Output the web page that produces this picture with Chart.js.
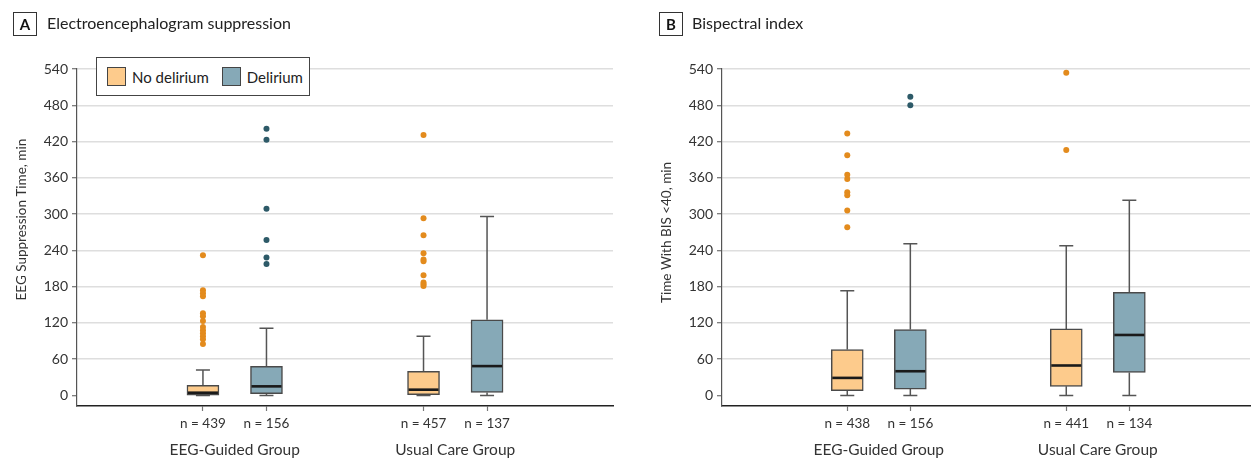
<!DOCTYPE html>
<html>
<head>
<meta charset="utf-8">
<script src="https://cdn.jsdelivr.net/npm/chart.js@4.4.1/dist/chart.umd.min.js"></script>
<style>
html,body{margin:0;padding:0;background:#fff;}
body{width:1254px;height:460px;position:relative;overflow:hidden;font-family:Lato,"Open Sans",sans-serif;color:#222;}
canvas{position:absolute;top:0;}
.tag{position:absolute;top:12px;width:22px;height:22px;border:1px solid #333;font-weight:bold;font-size:15px;line-height:22px;text-align:center;color:#111;}
.ptitle{position:absolute;top:11px;height:24px;line-height:24px;font-size:16px;color:#222;}
.legend{position:absolute;left:96px;top:57px;width:212px;height:37px;border:1px solid #444;background:#fff;display:flex;align-items:center;font-size:15px;color:#222;}
.legend .item{display:flex;align-items:center;}
.legend .sw{width:17px;height:17px;border:1px solid #444;margin-right:6px;}
</style>
</head>
<body>
<canvas id="cA" width="627" height="460" style="left:0px"></canvas>
<canvas id="cB" width="627" height="460" style="left:627px"></canvas>
<div class="tag" style="left:13px">A</div>
<div class="ptitle" style="left:47px">Electroencephalogram suppression</div>
<div class="tag" style="left:659px">B</div>
<div class="ptitle" style="left:692px">Bispectral index</div>
<div class="legend" id="legend"></div>
<script>
// ---------- data ----------
const groups = ['EEG-Guided Group', 'Usual Care Group'];
const seriesNames = ['No delirium', 'Delirium'];
const yTicks = [0, 60, 120, 180, 240, 300, 360, 420, 480, 540];

// Panel A: EEG suppression time, min. Box stats per group: [min, q1, median, q3, max]
const suppNoDelirium = [[0, 0.5, 4.5, 16.5, 42], [0, 0, 9.5, 40, 98]];
const suppDelirium = [[0, 3, 15, 48, 111], [0, 5, 48.5, 125, 296]];
const suppNoDeliriumOut = [[232, 174, 169, 164, 136, 131, 123, 113, 108, 103, 98, 93, 85], [431, 293, 265, 235, 225, 222, 199, 187, 184, 181]];
const suppDeliriumOut = [[441, 423, 309, 257, 228, 217.5], []];
const suppNoDeliriumN = [439, 457];
const suppDeliriumN = [156, 137];

// Panel B: time with BIS < 40, min
const bisNoDelirium = [[0, 8, 29, 76, 173], [0, 15, 49.5, 110, 247.5]];
const bisDelirium = [[0, 10.5, 40, 109, 251], [0, 38, 100, 170.5, 323]];
const bisNoDeliriumOut = [[433.5, 397.5, 365, 358, 336, 331, 306, 278], [534, 406]];
const bisDeliriumOut = [[494, 480], []];
const bisNoDeliriumN = [438, 441];
const bisDeliriumN = [156, 134];

// ---------- styles ----------
const FONT = 'Lato';
const fillColors = ['#FDCB8C', '#86A9B7'];
const dotColors = ['#E38B1D', '#2D5A68'];
const seriesOffset = [-0.144, 0.144];
const BOX_W = 32, CAP_W = 14;

// legend
const leg = document.getElementById('legend');
seriesNames.forEach((s, i) => {
  const it = document.createElement('div');
  it.className = 'item';
  it.style.marginLeft = i === 0 ? '10px' : '13px';
  it.innerHTML = '<div class="sw" style="background:' + fillColors[i] + '"></div><span>' + s + '</span>';
  leg.appendChild(it);
});

const boxPlugin = {
  id: 'boxWhisker',
  beforeDatasetsDraw(chart) {
    const {ctx, scales: {x, y}} = chart;
    const stats = chart.config.options.plugins.boxWhisker.stats;
    ctx.save();
    ctx.strokeStyle = '#555';
    ctx.lineWidth = 1.5;
    stats.forEach(st => st.data.forEach((b, gi) => {
      const px = x.getPixelForValue(gi + 1 + seriesOffset[st.si]);
      const [mn, q1, md, q3, mx] = b;
      ctx.beginPath();
      ctx.moveTo(px, y.getPixelForValue(q3)); ctx.lineTo(px, y.getPixelForValue(mx));
      ctx.moveTo(px - CAP_W / 2, y.getPixelForValue(mx)); ctx.lineTo(px + CAP_W / 2, y.getPixelForValue(mx));
      ctx.moveTo(px, y.getPixelForValue(q1)); ctx.lineTo(px, y.getPixelForValue(mn));
      ctx.moveTo(px - CAP_W / 2, y.getPixelForValue(mn)); ctx.lineTo(px + CAP_W / 2, y.getPixelForValue(mn));
      ctx.stroke();
    }));
    ctx.restore();
  },
  afterDatasetsDraw(chart) {
    const {ctx, scales: {x, y}} = chart;
    const stats = chart.config.options.plugins.boxWhisker.stats;
    ctx.save();
    ctx.strokeStyle = '#1a1a1a';
    ctx.lineWidth = 2.6;
    stats.forEach(st => st.data.forEach((b, gi) => {
      const px = x.getPixelForValue(gi + 1 + seriesOffset[st.si]);
      const py = y.getPixelForValue(b[2]);
      ctx.beginPath();
      ctx.moveTo(px - BOX_W / 2 + 1, py); ctx.lineTo(px + BOX_W / 2 - 1, py);
      ctx.stroke();
    }));
    ctx.restore();
  }
};

// y-axis title drawn with the chart's own canvas, centred where the original places it
const yTitlePlugin = {
  id: 'yTitle',
  afterDraw(chart) {
    const o = chart.config.options.plugins.yTitle;
    const {ctx, chartArea} = chart;
    ctx.save();
    ctx.translate(o.x, chartArea.top + o.centerFrac * (chartArea.bottom - chartArea.top));
    ctx.rotate(-Math.PI / 2);
    ctx.fillStyle = '#333';
    ctx.font = o.size + 'px ' + FONT;
    ctx.textAlign = 'center';
    ctx.textBaseline = 'middle';
    ctx.fillText(o.text, 0, 0);
    ctx.restore();
  }
};

function makePanel(canvasId, p) {
  const stats = [p.noDel, p.del];
  const outs = [p.noDelOut, p.delOut];
  const ns = [p.noDelN, p.delN];
  const xt = [];
  groups.forEach((g, gi) => {
    seriesNames.forEach((s, si) => xt.push({value: gi + 1 + seriesOffset[si], label: 'n = ' + ns[si][gi], kind: 'n'}));
    xt.push({value: gi + 1, label: ['', g], kind: 'g'});
  });
  xt.sort((a, b) => a.value - b.value);

  const datasets = [];
  seriesNames.forEach((s, si) => {
    datasets.push({
      type: 'bar', label: s, order: 2,
      data: stats[si].map((b, gi) => ({x: gi + 1 + seriesOffset[si], y: [b[1], b[3]]})),
      backgroundColor: fillColors[si], borderColor: '#4a4a4a', borderWidth: 1.5,
      borderSkipped: false, barThickness: BOX_W, grouped: false
    });
  });
  seriesNames.forEach((s, si) => {
    const pts = [];
    outs[si].forEach((arr, gi) => arr.forEach(v => pts.push({x: gi + 1 + seriesOffset[si], y: v})));
    datasets.push({
      type: 'scatter', label: s + ' outliers', order: 1, data: pts,
      pointRadius: 3, pointBackgroundColor: dotColors[si], pointBorderWidth: 0, showLine: false
    });
  });

  return new Chart(document.getElementById(canvasId), {
    type: 'bar',
    data: {datasets},
    plugins: [boxPlugin, yTitlePlugin],
    options: {
      responsive: false, animation: false, devicePixelRatio: 1,
      layout: {padding: {top: 69, right: p.padRight, bottom: 0, left: 0}},
      plugins: {
        legend: {display: false}, tooltip: {enabled: false},
        boxWhisker: {stats: [{si: 0, data: stats[0]}, {si: 1, data: stats[1]}]},
        yTitle: {text: p.yTitle, x: p.titleX, centerFrac: p.titleFrac, size: 13.5}
      },
      scales: {
        x: {
          type: 'linear', min: p.xMin, max: p.xMax, offset: false,
          afterBuildTicks: s => { s.ticks = xt.map(t => ({value: t.value})); },
          afterFit: s => { s.height = 54; },
          border: {color: '#222', width: 1.5},
          grid: {offset: false, drawOnChartArea: false, drawTicks: true, tickLength: 5, tickWidth: 1.2,
                 tickColor: c => (xt[c.index] && xt[c.index].kind === 'n') ? '#777' : 'rgba(0,0,0,0)'},
          ticks: {autoSkip: false, maxRotation: 0, minRotation: 0, padding: 4, color: '#333',
                  callback: (v, i) => xt[i].label,
                  font: c => (xt[c.index] && xt[c.index].kind === 'g') ? {family: FONT, size: 15.5, lineHeight: 1.5} : {family: FONT, size: 13.5, lineHeight: 1.25}}
        },
        y: {
          min: -17.5, max: 540,
          afterBuildTicks: s => { s.ticks = yTicks.map(v => ({value: v})); },
          afterFit: s => { s.width = p.yWidth; },
          border: {color: '#555', width: 1.2},
          grid: {color: c => (c.tick && c.tick.value === 0) ? 'rgba(0,0,0,0)' : '#dedede', lineWidth: 1.5,
                 tickLength: 5, tickColor: '#555', tickWidth: 1},
          ticks: {padding: 4, color: '#333', font: {family: FONT, size: 14}}
        }
      }
    }
  });
}

makePanel('cA', {
  noDel: suppNoDelirium, del: suppDelirium, noDelOut: suppNoDeliriumOut, delOut: suppDeliriumOut,
  noDelN: suppNoDeliriumN, delN: suppDeliriumN, yTitle: 'EEG Suppression Time, min',
  xMin: 0.285, xMax: 2.715, padRight: 14, yWidth: 77, titleX: 22, titleFrac: 0.447
});
makePanel('cB', {
  noDel: bisNoDelirium, del: bisDelirium, noDelOut: bisNoDeliriumOut, delOut: bisDeliriumOut,
  noDelN: bisNoDeliriumN, delN: bisDeliriumN, yTitle: 'Time With BIS <40, min',
  xMin: 0.284, xMax: 2.695, padRight: 0, yWidth: 95, titleX: 40, titleFrac: 0.485
});
</script>
</body>
</html>
